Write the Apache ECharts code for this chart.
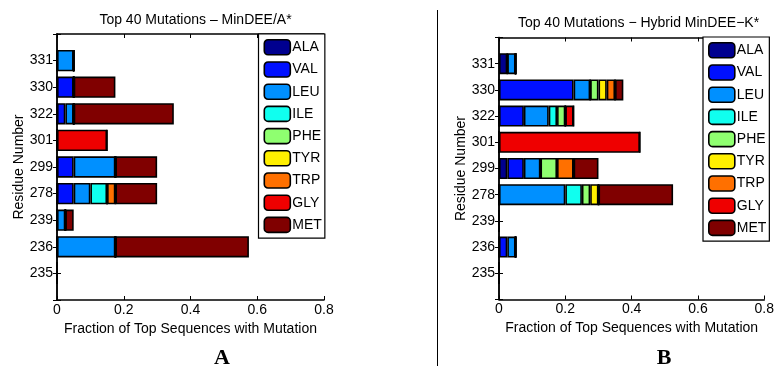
<!DOCTYPE html>
<html>
<head>
<meta charset="utf-8">
<script src="https://cdn.jsdelivr.net/npm/echarts@6/dist/echarts.min.js"></script>
<style>
html,body{margin:0;padding:0;background:#fff;}
#c{width:777px;height:366px;}
</style>
</head>
<body>
<div id="c"></div>
<script>
// Residue categories, bottom to top
const residues = ['235','236','239','278','299','301','322','330','331'];
const aminoAcids = ['ALA','VAL','LEU','ILE','PHE','TYR','TRP','GLY','MET'];
const aaColors = ['#00008F','#0010FF','#0090FF','#10FFEF','#8FFF70','#FFEF00','#FF7000','#EF0000','#800000'];
const xTicks = [0, 0.2, 0.4, 0.6, 0.8];

// Panel A: MinDEE/A*
const A_ALA = [0, 0, 0, 0, 0, 0, 0, 0, 0];
const A_VAL = [0, 0, 0, 0.05, 0.05, 0, 0.025, 0.05, 0];
const A_LEU = [0, 0.175, 0.025, 0.05, 0.125, 0, 0.025, 0, 0.05];
const A_ILE = [0, 0, 0, 0.05, 0, 0, 0, 0, 0];
const A_PHE = [0, 0, 0, 0, 0, 0, 0, 0, 0];
const A_TYR = [0, 0, 0, 0, 0, 0, 0, 0, 0];
const A_TRP = [0, 0, 0, 0.025, 0, 0, 0, 0, 0];
const A_GLY = [0, 0, 0, 0, 0, 0.15, 0, 0, 0];
const A_MET = [0, 0.4, 0.025, 0.125, 0.125, 0, 0.3, 0.125, 0];

// Panel B: Hybrid MinDEE-K*
const B_ALA = [0, 0, 0, 0, 0.025, 0, 0, 0, 0.025];
const B_VAL = [0, 0.025, 0, 0, 0.05, 0, 0.075, 0.225, 0];
const B_LEU = [0, 0.025, 0, 0.2, 0.05, 0, 0.075, 0.05, 0.025];
const B_ILE = [0, 0, 0, 0.05, 0, 0, 0.025, 0, 0];
const B_PHE = [0, 0, 0, 0.025, 0.05, 0, 0.025, 0.025, 0];
const B_TYR = [0, 0, 0, 0.025, 0, 0, 0, 0.025, 0];
const B_TRP = [0, 0, 0, 0, 0.05, 0, 0, 0.025, 0];
const B_GLY = [0, 0, 0, 0, 0, 0.425, 0.025, 0, 0];
const B_MET = [0, 0, 0, 0.225, 0.075, 0, 0, 0.025, 0];

const titleA = 'Top 40 Mutations \u2013 MinDEE/A*';
const titleB = 'Top 40 Mutations \u2212 Hybrid MinDEE\u2212K*';
const xName = 'Fraction of Top Sequences with Mutation';
const yName = 'Residue Number';

const panelA = [A_ALA, A_VAL, A_LEU, A_ILE, A_PHE, A_TYR, A_TRP, A_GLY, A_MET];
const panelB = [B_ALA, B_VAL, B_LEU, B_ILE, B_PHE, B_TYR, B_TRP, B_GLY, B_MET];

const FONT = 'Liberation Sans, Arial, Helvetica, sans-serif';
const cats = [''].concat(residues, ['']);
const pad = arr => [null].concat(arr, [null]);

function xAxes(gi) {
  return [
    { gridIndex: gi, type: 'value', position: 'bottom', min: 0, max: 0.8, interval: 0.2,
      name: xName, nameLocation: 'middle', nameGap: 15,
      nameTextStyle: { fontFamily: FONT, fontSize: 14, color: '#000' },
      axisLine: { show: true, lineStyle: { color: '#000', width: 1.5 } },
      axisTick: { show: true, inside: true, length: 4, lineStyle: { color: '#000' } },
      axisLabel: { fontFamily: FONT, fontSize: 14, color: '#000', margin: 3,
        formatter: v => String(Math.round(v * 10) / 10) },
      splitLine: { show: false } },
    { gridIndex: gi, type: 'value', position: 'top', min: 0, max: 0.8, interval: 0.2,
      axisLine: { show: true, lineStyle: { color: '#000', width: 1.5 } },
      axisTick: { show: true, inside: true, length: 4, lineStyle: { color: '#000' } },
      axisLabel: { show: false }, splitLine: { show: false } }
  ];
}
function yAxes(gi) {
  return [
    { gridIndex: gi, type: 'category', data: cats, boundaryGap: false, position: 'left',
      name: yName, nameLocation: 'middle', nameGap: 31, nameRotate: 90,
      nameTextStyle: { fontFamily: FONT, fontSize: 14, color: '#000' },
      axisLine: { show: true, lineStyle: { color: '#000', width: 1.5 } },
      axisTick: { show: true, inside: true, length: 4, lineStyle: { color: '#000' } },
      axisLabel: { fontFamily: FONT, fontSize: 14, color: '#000', margin: 4 },
      splitLine: { show: false } },
    { gridIndex: gi, type: 'category', data: cats, boundaryGap: false, position: 'right',
      axisLine: { show: true, lineStyle: { color: '#000', width: 1.5 } },
      axisTick: { show: true, inside: true, length: 4, lineStyle: { color: '#000' } },
      axisLabel: { show: false }, splitLine: { show: false } }
  ];
}

const series = [];
[panelA, panelB].forEach((panel, p) => {
  panel.forEach((vals, i) => {
    series.push({
      type: 'bar', name: aminoAcids[i], stack: 'S' + p,
      xAxisIndex: p * 2, yAxisIndex: p * 2,
      data: pad(vals), barWidth: '80%',
      itemStyle: { color: aaColors[i], borderColor: '#000', borderWidth: 1.6 },
      emphasis: { disabled: true }, animation: false
    });
  });
});

function legend(left, top) {
  return {
    orient: 'vertical', left: left, top: top, data: aminoAcids,
    itemWidth: 26, itemHeight: 15, itemGap: 5.6,
    padding: [5, 3, 5, 5],
    backgroundColor: '#fff', borderColor: '#000', borderWidth: 1.2,
    selectedMode: false,
    itemStyle: { borderColor: '#000', borderWidth: 1.6 },
    textStyle: { fontFamily: FONT, fontSize: 14, color: '#000', padding: [0, 0, 0, -3] }
  };
}

const chart = echarts.init(document.getElementById('c'), null, { renderer: 'canvas' });
chart.setOption({
  backgroundColor: '#fff',
  animation: false,
  title: [
    { text: titleA, left: 190.5, top: 8, textAlign: 'center',
      textStyle: { fontFamily: FONT, fontSize: 14, fontWeight: 'normal', color: '#000' } },
    { text: titleB, left: 633.5, top: 11, textAlign: 'center',
      textStyle: { fontFamily: FONT, fontSize: 14, fontWeight: 'normal', color: '#000' } },
    { text: 'A', left: 217, top: 342, textAlign: 'center',
      textStyle: { fontFamily: 'Liberation Serif, Times New Roman, serif', fontSize: 22, fontWeight: 'bold', color: '#000' } },
    { text: 'B', left: 659, top: 342, textAlign: 'center',
      textStyle: { fontFamily: 'Liberation Serif, Times New Roman, serif', fontSize: 22, fontWeight: 'bold', color: '#000' } }
  ],
  grid: [
    { left: 57, top: 34, width: 267, height: 266, containLabel: false },
    { left: 499, top: 37.5, width: 269, height: 262, containLabel: false }
  ],
  xAxis: xAxes(0).concat(xAxes(1)),
  yAxis: yAxes(0).concat(yAxes(1)),
  legend: [legend(258.5, 34), legend(703, 37)],
  series: series,
  graphic: [
    { type: 'line', shape: { x1: 437.5, y1: 10, x2: 437.5, y2: 366 }, style: { stroke: '#000', lineWidth: 1 } }
  ]
});
</script>
</body>
</html>
